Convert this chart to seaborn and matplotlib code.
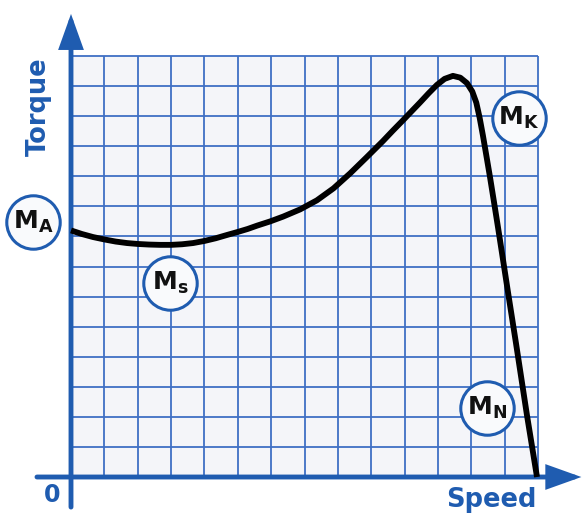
import numpy as np
import pandas as pd
import matplotlib
matplotlib.use('Agg')
import matplotlib.pyplot as plt
import seaborn as sns

# torque-speed curve (grid units, 14 x 14 cells)
speed = [0.0, 0.33, 0.66, 1.0, 1.34, 1.68, 2.0, 2.34, 2.67, 3.0, 3.33, 3.66, 4.0,
         4.34, 4.68, 5.0, 5.3, 5.58, 5.97, 6.36, 6.87, 7.37, 7.87, 8.37, 8.86,
         9.35, 9.65, 9.95, 10.2, 10.46, 10.72, 10.97, 11.2, 11.45, 11.67, 11.87,
         12.03, 12.15, 12.25, 12.35, 12.45, 12.56, 12.68, 12.80, 12.92, 13.10,
         13.34, 13.67, 13.97]
torque = [8.20, 8.08, 7.98, 7.90, 7.83, 7.78, 7.75, 7.73, 7.72, 7.72, 7.74, 7.78,
          7.85, 7.94, 8.05, 8.15, 8.25, 8.36, 8.50, 8.66, 8.90, 9.20, 9.60, 10.10,
          10.63, 11.17, 11.52, 11.86, 12.15, 12.45, 12.76, 13.04, 13.24, 13.34,
          13.28, 13.10, 12.82, 12.45, 11.95, 11.35, 10.70, 9.98, 9.15, 8.31, 7.45,
          6.15, 4.45, 2.05, 0.0]

point_labels = [r'$\mathbf{M_A}$', r'$\mathbf{M_s}$', r'$\mathbf{M_K}$', r'$\mathbf{M_N}$']
label_x = [-1.14, 2.97, 13.43, 12.47]
label_y = [8.48, 6.45, 11.94, 2.29]

n_cells = 14

sns.set_style("white")
plt.rcParams['font.family'] = ['DejaVu Sans']
plt.rcParams['mathtext.fontset'] = 'dejavusans'

blue = '#1f5cb0'
grid_blue = '#3f6fc4'

fig = plt.figure(figsize=(5.83, 5.21), dpi=100)
ax = fig.add_axes([0, 0, 1, 1])
ax.set_xlim(-2.1285, 15.349)
ax.set_ylim(-1.463, 15.863)
ax.axis('off')

# paper background of the grid
ax.fill_between([0, n_cells], 0, n_cells, color='#f4f5f9', zorder=0)
ticks = np.arange(0, n_cells + 1)
ax.vlines(ticks[1:], 0, n_cells, color=grid_blue, lw=1.3, zorder=1)
ax.hlines(ticks[1:], 0, n_cells, color=grid_blue, lw=1.3, zorder=1)

# axes with arrow heads
arrow = dict(arrowstyle='-|>,head_length=0.95,head_width=0.34', mutation_scale=20,
             lw=3.5, color=blue, shrinkA=0, shrinkB=0, joinstyle='miter')
ax.annotate('', xy=(0, 15.40), xytext=(0, -1.0), arrowprops=arrow, zorder=3)
ax.annotate('', xy=(15.30, 0), xytext=(-1.02, 0), arrowprops=arrow, zorder=3)

df = pd.DataFrame({'speed': speed, 'torque': torque})
sns.lineplot(data=df, x='speed', y='torque', ax=ax, color='black', lw=4.2,
             solid_capstyle='butt', solid_joinstyle='round', zorder=4)

# circled labels
ax.scatter(label_x, label_y, s=1480, facecolor='#f9fafc', edgecolor=blue,
           linewidth=2.2, zorder=5, clip_on=False)
for lab, lx, ly in zip(point_labels, label_x, label_y):
    ax.text(lx, ly, lab, fontsize=18, color='#111111', ha='center', va='center', zorder=6)

ax.text(-0.95, 12.3, 'Torque', rotation=90, fontsize=18.5, fontweight='bold',
        color=blue, ha='center', va='center')
ax.text(12.61, -0.77, 'Speed', fontsize=18.5, fontweight='bold',
        color=blue, ha='center', va='center')
ax.text(-0.57, -0.6, '0', fontsize=17, fontweight='bold',
        color=blue, ha='center', va='center')

fig.savefig('out.png', dpi=100, facecolor='white')
